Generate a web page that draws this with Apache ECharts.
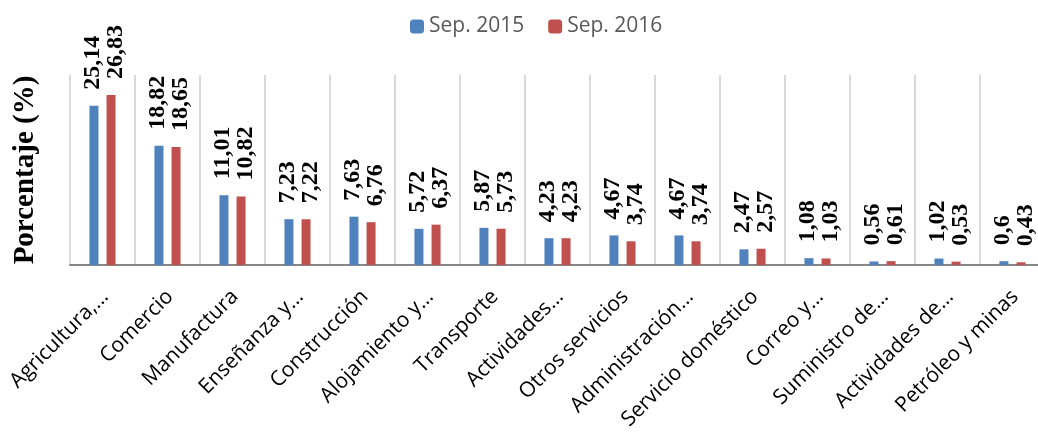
<!DOCTYPE html>
<html>
<head>
<meta charset="utf-8">
<script src="https://cdn.jsdelivr.net/npm/echarts@6/dist/echarts.min.js"></script>
<style>
  html, body { margin: 0; padding: 0; background: #fff; }
  #chart { width: 1038px; height: 442px; }
</style>
</head>
<body>
<div id="chart"></div>
<script>
// sectors, in the order shown
const sectors = [
  'Agricultura,…', 'Comercio', 'Manufactura', 'Enseñanza y…', 'Construcción',
  'Alojamiento y…', 'Transporte', 'Actividades…', 'Otros servicios', 'Administración…',
  'Servicio doméstico', 'Correo y…', 'Suministro de…', 'Actividades de…', 'Petróleo y minas'
];
const sep2015 = [25.14, 18.82, 11.01, 7.23, 7.63, 5.72, 5.87, 4.23, 4.67, 4.67, 2.47, 1.08, 0.56, 1.02, 0.6];
const sep2016 = [26.83, 18.65, 10.82, 7.22, 6.76, 6.37, 5.73, 4.23, 3.74, 3.74, 2.57, 1.03, 0.61, 0.53, 0.43];

const chart = echarts.init(document.getElementById('chart'));

// value labels: comma decimal, bold serif, rotated
// offset is in the rotated frame, so the 2nd number pushes sideways
const valueLabel = (dx) => ({
  show: true,
  position: 'top',
  rotate: 90,
  align: 'left',
  verticalAlign: 'middle',
  distance: 16,
  offset: [0, dx],
  fontFamily: 'Liberation Serif',
  fontWeight: 'bold',
  fontSize: 24,
  color: '#000',
  formatter: p => String(p.value).replace('.', ',')
});

const options = {
  animation: false,
  legend: {
    top: 11,
    left: 405,
    itemWidth: 14,
    itemHeight: 14,
    itemGap: 24,
    textStyle: { fontFamily: 'Open Sans', fontSize: 21, color: '#595959' },
    data: ['Sep. 2015', 'Sep. 2016']
  },
  grid: { left: 70, top: 75, width: 975, height: 190, outerBoundsMode: 'none', containLabel: false },
  xAxis: {
    type: 'category',
    data: sectors,
    axisTick: { show: false },
    axisLine: { lineStyle: { color: '#868686', width: 2 } },
    splitLine: { show: true, interval: 0, lineStyle: { color: '#d9d9d9', width: 2 } },
    axisLabel: {
      interval: 0,
      rotate: 45,
      margin: 16,
      verticalAlign: 'top',
      padding: [0, 7, 0, 0],
      fontFamily: 'Open Sans',
      fontSize: 21,
      color: '#000'
    }
  },
  yAxis: {
    type: 'value',
    min: 0,
    max: 30,
    name: 'Porcentaje (%)',
    nameLocation: 'middle',
    nameGap: 30,
    nameTextStyle: { fontFamily: 'Liberation Serif', fontWeight: 'bold', fontSize: 29, color: '#000' },
    axisLabel: { show: false },
    axisLine: { show: false },
    axisTick: { show: false },
    splitLine: { show: false }
  },
  series: [
    {
      name: 'Sep. 2015',
      type: 'bar',
      data: sep2015,
      barWidth: 9,
      barGap: '90%',
      itemStyle: { color: '#4f81bd' },
      label: valueLabel(-1)
    },
    {
      name: 'Sep. 2016',
      type: 'bar',
      data: sep2016,
      barWidth: 9,
      itemStyle: { color: '#c0504d' },
      label: valueLabel(5)
    }
  ]
};

chart.setOption(options);
</script>
</body>
</html>
